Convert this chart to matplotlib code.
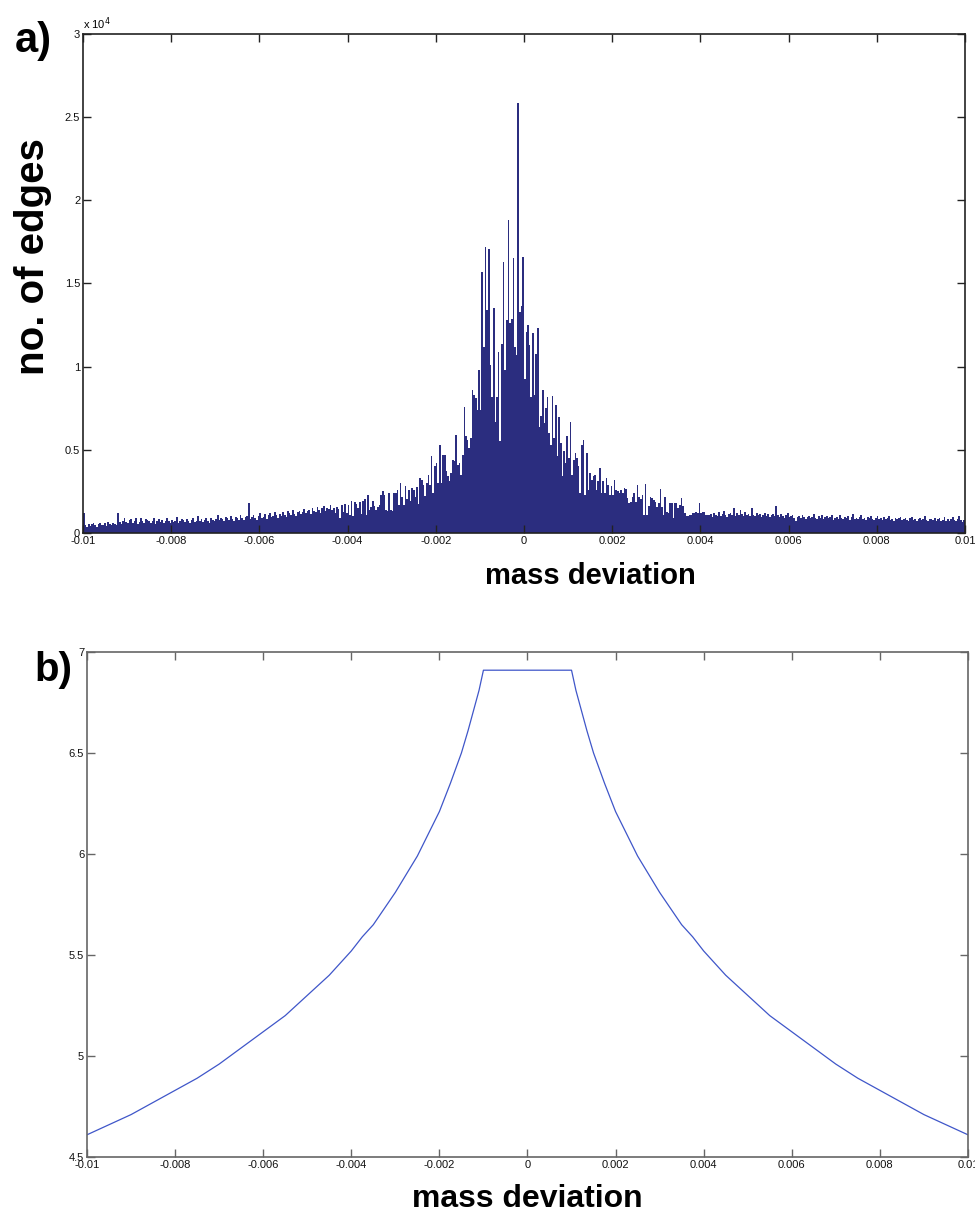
import matplotlib
matplotlib.use('Agg')
import matplotlib.pyplot as plt
import numpy as np
from matplotlib.ticker import FuncFormatter

plt.rcParams['font.family'] = ['Liberation Sans', 'DejaVu Sans']

# --- panel a: histogram of mass deviations (540 bins over -0.01..0.01) ---
left_tail = [1220, 480, 350, 520, 430, 560, 600, 470, 380, 540, 610, 450, 500, 580, 420, 640, 520, 470, 600, 560, 450,
             1220, 680, 550, 720, 900, 640, 580, 760, 840, 610, 700, 930, 560, 650, 880, 720, 600, 810, 760, 690,
             620, 740, 880, 560, 700, 820, 650, 760, 600, 690, 910, 720, 580, 800, 680, 740, 940, 620, 700, 860,
             760, 640, 820, 700, 590, 780, 900, 660, 740, 1000, 710, 820, 640, 760, 880, 690, 600, 920, 780, 700,
             850, 1060, 760, 900, 820, 700, 950, 880, 760, 1020, 840, 720, 960, 890, 800, 1080, 900, 760, 940, 1000,
             1780, 820, 960, 1100, 880, 760, 1040, 1180, 900, 980, 1120, 860, 1060, 1200, 960, 1000, 1240, 1080, 920, 1150,
             1020, 1260, 1100, 940, 1300, 1180, 1060, 1400, 1150, 1000, 1280, 1350, 1120, 1240, 1460, 1200, 1300, 1380, 1160, 1500,
             1340, 1260, 1550, 1400, 1220, 1480, 1600, 1300, 1520, 1420, 1680, 1380]
left_shoulder = [1480, 1180, 1580, 1420, 880, 1680, 1280, 1740, 1180, 1680,
                 1080, 1940, 1020, 1880, 1740, 1480, 1880, 1120, 1940, 2040,
                 1080, 2300, 1380, 1580, 1900, 1620, 1380, 1580, 1680, 2300,
                 2530, 2280, 1380, 1340, 2380, 1380, 1340, 2400, 2400, 2580,
                 1680, 3000, 2140, 1680, 2820, 2040, 2580, 1940, 2680, 2580,
                 2140, 2780, 1740]
left_core = [3300, 3200, 2900, 2200, 3000, 3500, 2900, 4600, 2400, 4000,
             4200, 3000, 5300, 3000, 4700, 4700, 3700, 3400, 3100, 3600,
             4400, 4300, 5900, 4100, 4200, 3500, 4700, 7600, 5800, 5600,
             5100, 5700, 8600, 8300, 8100, 7400, 9800, 7400, 15700, 11200, 17200]
peak = [13400, 17050, 10100, 8190, 13540, 6690, 8190, 10860, 5530, 11360,
        16270, 9800, 12800, 18810, 12600, 12860, 16510, 11200, 10700, 25820,
        13260, 13640, 16610, 9240, 12100, 12500, 11300, 8190, 12000, 8290,
        10740, 12300, 6390, 7050, 8590, 6630, 7490, 8150, 5990, 5290, 8250, 5690]
right_core = [7700, 4600, 7000, 5400, 3400, 4900, 4200, 5800, 4500, 6700,
              3500, 4400, 4800, 4500, 4000, 2400, 5300, 5600, 2300, 4800,
              2600, 3600, 3200, 3400, 3500, 2600, 3100, 3900, 2400, 3100,
              2400, 3300, 2900, 2300, 2800, 2300, 3200, 2600, 2500, 2400]
right_shoulder = [2580, 2380, 2680, 2620, 2080, 1780, 1880, 2180, 2380, 1880,
                  2880, 2180, 2020, 2280, 1080, 2940, 1080, 1620, 2180, 2080,
                  1980, 1880, 1580, 1780, 2620, 1580, 1080, 2180, 1280, 1180,
                  1780, 1780, 880, 1820, 1780, 1480, 1680, 2080, 1620, 1180,
                  1020, 1020, 1080, 1080, 1220, 1180, 1280, 1180, 1820, 1220,
                  1280, 1280, 1080, 1080]
right_tail = [1060, 1120, 980, 1200, 1100, 1040, 1280, 1000, 1120, 1340, 1060, 980, 1160, 1220, 1080, 1500, 1040, 1180, 1100, 1360,
              1120, 1000, 1260, 1080, 1160, 1040, 1480, 1100, 1020, 1220, 1060, 1140, 980, 1060, 1200, 1020, 1120, 940, 1080, 1160,
              1000, 1600, 1060, 980, 1140, 1040, 900, 1080, 1180, 960, 1040, 1100, 880, 700, 960, 1020, 900, 1060, 980, 860,
              940, 1040, 880, 960, 1120, 900, 840, 1000, 920, 1100, 860, 960, 1020, 880, 940, 1060, 800, 900, 980, 860,
              1100, 920, 840, 960, 880, 1000, 780, 940, 1120, 860, 900, 820, 960, 1060, 840, 900, 780, 940, 880, 1000,
              860, 760, 920, 1040, 820, 880, 760, 960, 840, 900, 1000, 780, 860, 740, 920, 820, 880, 960, 760, 840,
              900, 800, 720, 880, 960, 780, 840, 700, 860, 920, 760, 820, 1000, 780, 700, 860, 820, 760, 900, 740,
              820, 880, 700, 780, 960, 740, 820, 700, 860, 980, 760, 700, 820, 1020, 760, 640, 800]

counts = np.array(left_tail + left_shoulder + left_core + peak + right_core + right_shoulder + right_tail)
edges = np.linspace(-0.01, 0.01, len(counts) + 1)

# --- panel b: score vs mass deviation ---
dev = [-0.01, -0.0095, -0.009, -0.0085, -0.008, -0.0075, -0.007, -0.0065, -0.006, -0.0055,
       -0.005, -0.0045, -0.004, -0.00375, -0.0035, -0.00325, -0.003, -0.00275, -0.0025, -0.00225,
       -0.002, -0.00175, -0.0015, -0.00135, -0.0012, -0.0011, -0.001,
       0.0,
       0.001, 0.0011, 0.0012, 0.00135, 0.0015, 0.00175, 0.002, 0.00225, 0.0025, 0.00275,
       0.003, 0.00325, 0.0035, 0.00375, 0.004, 0.0045, 0.005, 0.0055, 0.006, 0.0065,
       0.007, 0.0075, 0.008, 0.0085, 0.009, 0.0095, 0.01]
score = [4.61, 4.66, 4.71, 4.77, 4.83, 4.89, 4.96, 5.04, 5.12, 5.20,
         5.30, 5.40, 5.52, 5.59, 5.65, 5.73, 5.81, 5.90, 5.99, 6.10,
         6.21, 6.35, 6.50, 6.61, 6.73, 6.81, 6.91,
         6.91,
         6.91, 6.81, 6.73, 6.61, 6.50, 6.35, 6.21, 6.10, 5.99, 5.90,
         5.81, 5.73, 5.65, 5.59, 5.52, 5.40, 5.30, 5.20, 5.12, 5.04,
         4.96, 4.89, 4.83, 4.77, 4.71, 4.66, 4.61]

xticks = [-0.01, -0.008, -0.006, -0.004, -0.002, 0, 0.002, 0.004, 0.006, 0.008, 0.01]
xfmt = FuncFormatter(lambda v, _: '0' if abs(v) < 1e-12 else ('%g' % v))

fig = plt.figure(figsize=(9.75, 12.16), dpi=100)

ax1 = fig.add_axes([0.0851, 0.5617, 0.9046, 0.4104])
ax1.bar(edges[:-1], counts, width=np.diff(edges), align='edge',
        color='#2b2d7f', edgecolor='none', linewidth=0)
ax1.set_xlim(-0.01, 0.01)
ax1.set_ylim(0, 30000)
ax1.set_yticks([0, 5000, 10000, 15000, 20000, 25000, 30000])
ax1.yaxis.set_major_formatter(FuncFormatter(lambda v, _: '%g' % (v / 1e4)))
ax1.text(0.0, 1.004, r'x 10$^4$', transform=ax1.transAxes, fontsize=8, va='bottom', ha='left')
ax1.set_xlabel('mass deviation', fontsize=21, fontweight='bold')
ax1.xaxis.set_label_coords(0.575, -0.058)
ax1.set_ylabel('no. of edges', fontsize=29, fontweight='bold')
ax1.yaxis.set_label_coords(-0.035, 0.553)
fig.text(0.015, 0.966, 'a)', fontsize=30, fontweight='bold', va='center')

ax2 = fig.add_axes([0.0892, 0.0485, 0.9036, 0.4153])
ax2.plot(dev, score, color='#3f56c9', linewidth=0.9)
ax2.set_xlim(-0.01, 0.01)
ax2.set_ylim(4.5, 7)
ax2.set_yticks([4.5, 5, 5.5, 6, 6.5, 7])
ax2.yaxis.set_major_formatter(FuncFormatter(lambda v, _: '%g' % v))
ax2.set_xlabel('mass deviation', fontsize=23, fontweight='bold', labelpad=10)
fig.text(0.035, 0.449, 'b)', fontsize=29, fontweight='bold', va='center')

for ax, spine_col in ((ax1, '#222222'), (ax2, '#666666')):
    ax.set_xticks(xticks)
    ax.xaxis.set_major_formatter(xfmt)
    ax.tick_params(direction='in', length=6, width=1, top=True, right=True,
                   labelsize=8, colors=spine_col, labelcolor='#111111', pad=2)
    for s in ax.spines.values():
        s.set_color(spine_col)
        s.set_linewidth(1.2)

fig.savefig('out.png', dpi=100)
